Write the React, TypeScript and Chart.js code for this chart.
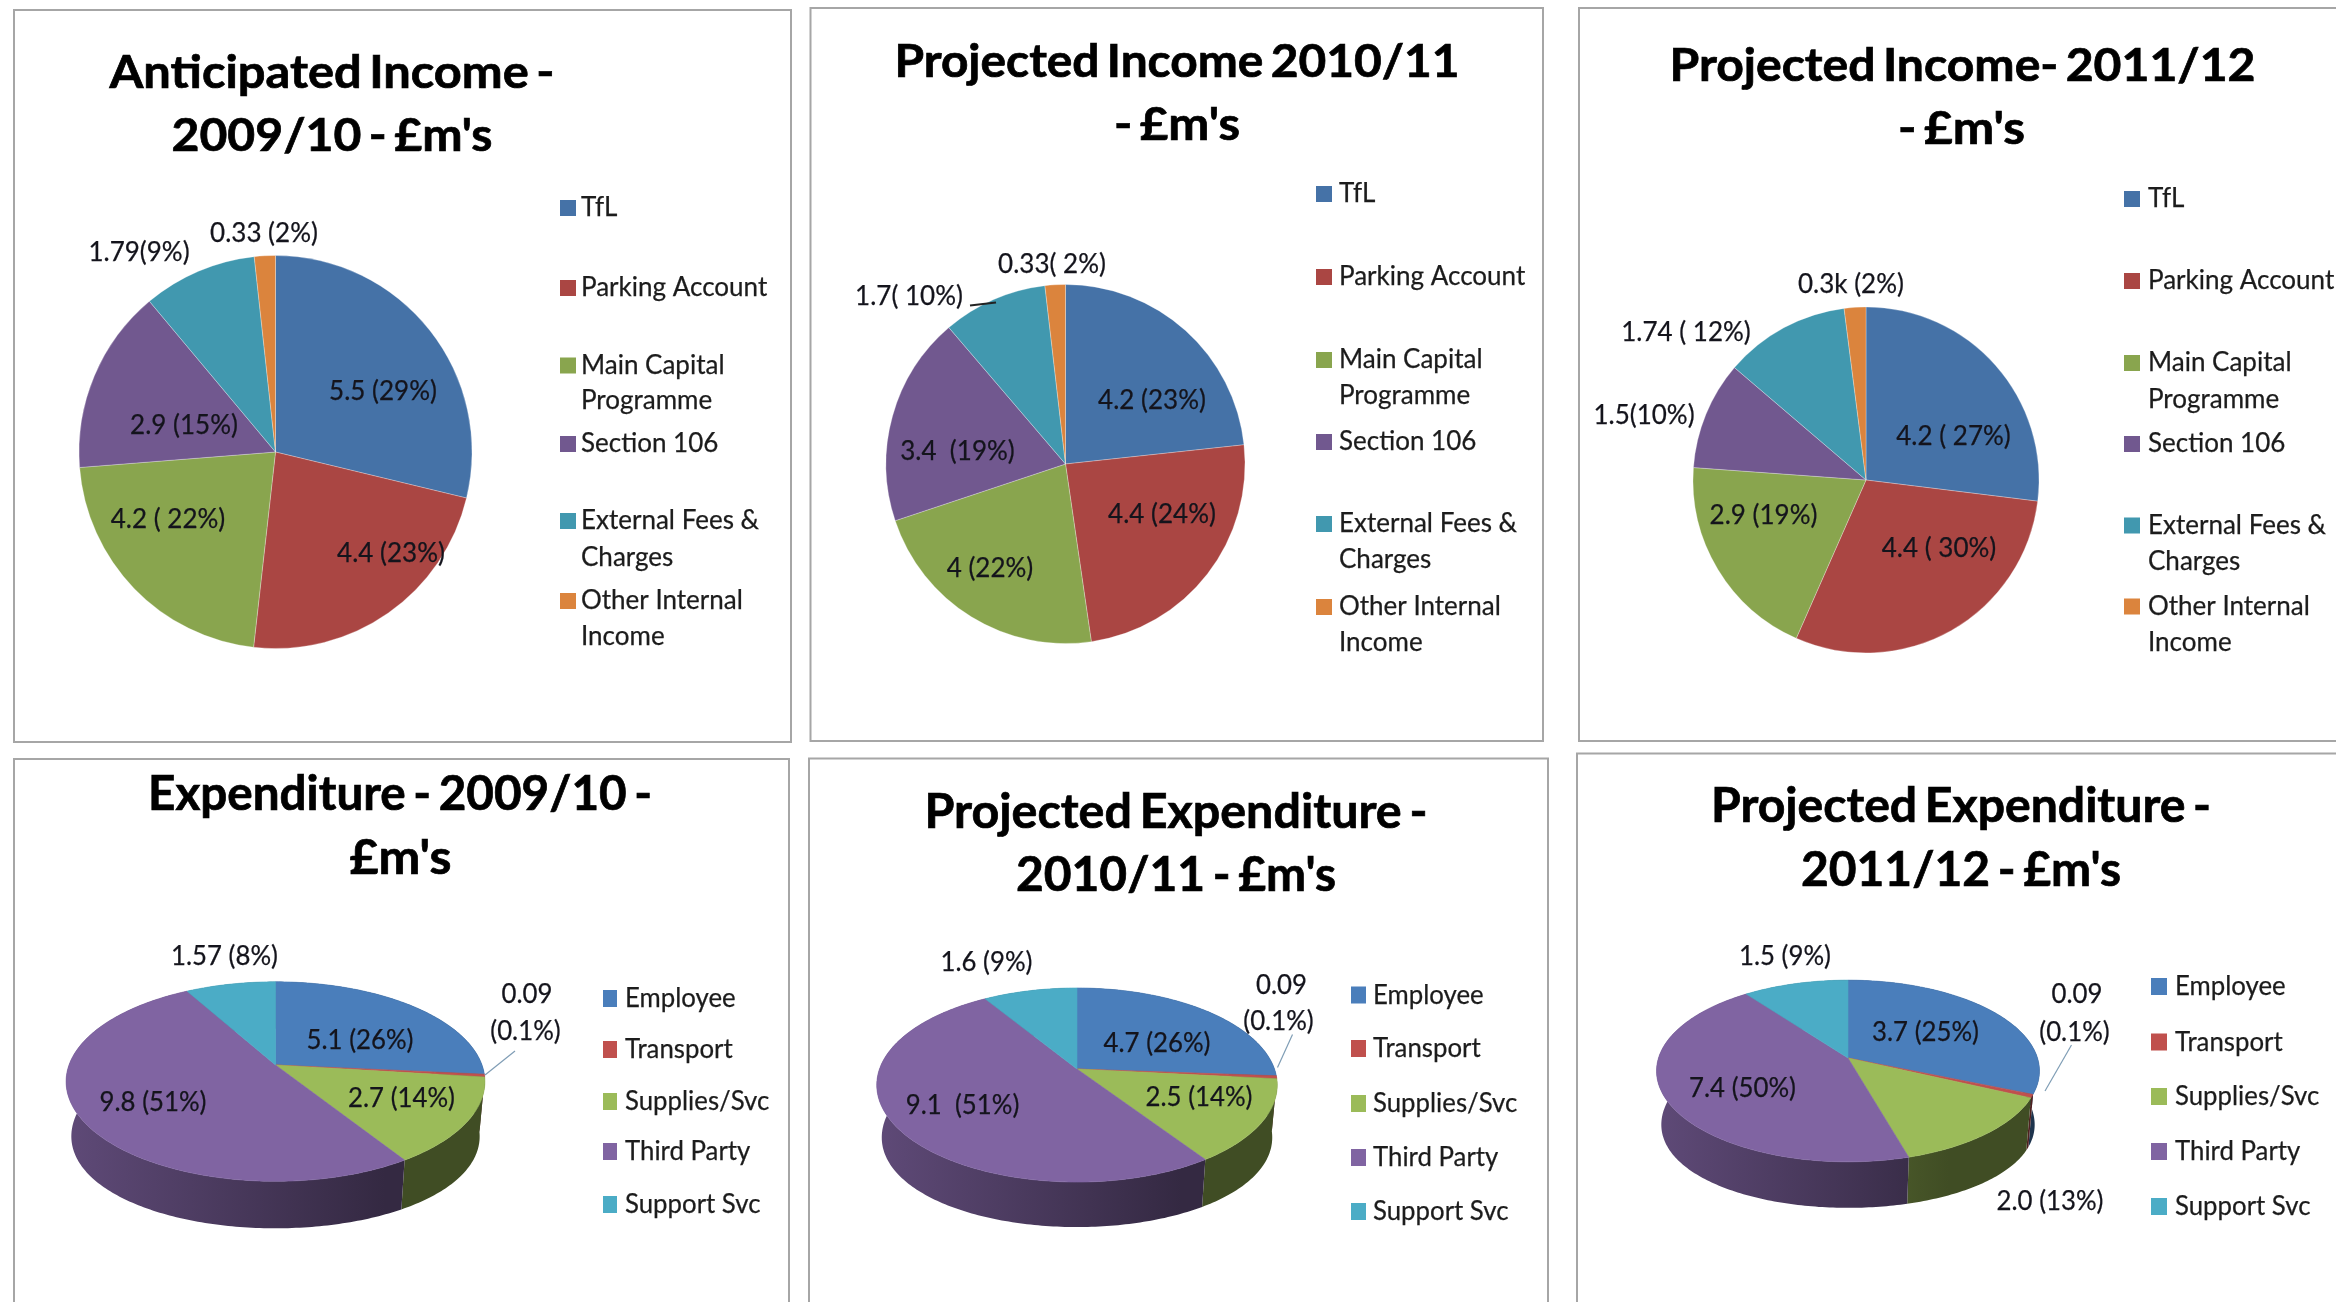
import React, { useEffect, useRef } from "react";
import { Chart, registerables } from "chart.js";

Chart.register(...registerables);

// ---- data ----
const incomeCategories = ["TfL", "Parking Account", "Main Capital Programme", "Section 106", "External Fees & Charges", "Other Internal Income"];
const expenditureCategories = ["Employee", "Transport", "Supplies/Svc", "Third Party", "Support Svc"];

const income0910 = [5.5, 4.4, 4.2, 2.9, 1.79, 0.33];
const income1011 = [4.2, 4.4, 4, 3.4, 1.7, 0.33];
// Slice sizes as drawn in the picture (its typed labels differ a little from the drawn slices).
const income1112 = [4.0, 4.4, 2.9, 1.5, 1.74, 0.3];
const spend0910 = [5.1, 0.09, 2.7, 9.8, 1.57];
const spend1011 = [4.7, 0.09, 2.5, 9.1, 1.6];
const spend1112 = [4.6, 0.09, 2.0, 6.5, 1.5];

const incomeColors = ["#4572a7", "#aa4643", "#89a54e", "#71588f", "#4198af", "#db843d"];
const spendColors = ["#4a7ebb", "#c0504d", "#9bbb59", "#8064a2", "#4bacc6"];

const FONT = "Lato, Carlito, Calibri, sans-serif";
type Txt = [string, number, number];
type Fit = [string, number, number, number];
type Panel = {
  box: number[]; values: number[]; labels: string[]; colors: string[];
  center: number[]; radius: number; tilt?: number[]; title: Fit[]; texts: Txt[];
  leader?: number[]; leaderColor?: string; leaderWidth?: number; legend: { y: number[]; text: string[] }[];
  swatch: number[]; legendX: number; legendFont: number; labelFont: number; sx: number; titleFont: number;
};

const incomeLegend = (y: number[]) => [
  { y: [y[0]], text: ["TfL"] },
  { y: [y[1]], text: ["Parking Account"] },
  { y: [y[2], y[3]], text: ["Main Capital", "Programme"] },
  { y: [y[4]], text: ["Section 106"] },
  { y: [y[5], y[6]], text: ["External Fees &", "Charges"] },
  { y: [y[7], y[8]], text: ["Other Internal", "Income"] },
];
const spendLegend = (y: number[]) => expenditureCategories.map((c, i) => ({ y: [y[i]], text: [c] }));

const panels: Panel[] = [
  {
    box: [14, 10, 791, 742], values: income0910, labels: incomeCategories, colors: incomeColors,
    center: [275.5, 452], radius: 197, titleFont: 45, sx: 1.0,
    title: [["Anticipated Income -", 332, 73, 445], ["2009/10 - £m's", 332, 136, 321]],
    texts: [["0.33 (2%)", 264, 233], ["1.79(9%)", 139, 252], ["5.5 (29%)", 383, 391], ["4.4 (23%)", 391, 553], ["4.2 ( 22%)", 168, 519], ["2.9 (15%)", 184, 425]],
    legend: incomeLegend([208, 288, 365.5, 401, 444, 521, 558, 601, 637]),
    swatch: [560, 16, 16], legendX: 581, legendFont: 26, labelFont: 26,
  },
  {
    box: [810.5, 8, 1543, 741], values: income1011, labels: incomeCategories, colors: incomeColors,
    center: [1065.5, 464], radius: 180, titleFont: 45, sx: 1.0,
    title: [["Projected Income 2010/11", 1177, 62, 565], ["- £m's", 1177, 125.5, 126]],
    texts: [["0.33( 2%)", 1052, 263.5], ["1.7( 10%)", 909, 296], ["4.2 (23%)", 1152, 400], ["4.4 (24%)", 1162, 514], ["4 (22%)", 990, 568], ["3.4  (19%)", 957.5, 451]],
    leader: [970, 305.4, 996, 302.5], leaderColor: "#222222", leaderWidth: 2,
    legend: incomeLegend([194, 277, 360, 396, 442, 524, 560, 607, 643]),
    swatch: [1316, 16, 16], legendX: 1339, legendFont: 26, labelFont: 26,
  },
  {
    box: [1579, 8, 2400, 741], values: income1112, labels: incomeCategories, colors: incomeColors,
    center: [1866, 480], radius: 173.5, titleFont: 45, sx: 1.0,
    title: [["Projected Income- 2011/12", 1962.5, 66, 586], ["- £m's", 1961.5, 129, 127]],
    texts: [["0.3k (2%)", 1851, 283.5], ["1.74 ( 12%)", 1686, 332], ["1.5(10%)", 1644, 415], ["4.2 ( 27%)", 1953.5, 436], ["4.4 ( 30%)", 1939, 548], ["2.9 (19%)", 1763.5, 515]],
    legend: incomeLegend([199, 281, 363, 399.5, 444, 525.5, 562, 606.5, 643]),
    swatch: [2124, 16, 16], legendX: 2148, legendFont: 26, labelFont: 26,
  },
  {
    box: [14, 759, 789, 1400], values: spend0910, labels: expenditureCategories, colors: spendColors,
    center: [275.5, 1065], radius: 207, tilt: [97, -0.166, 47], titleFont: 48, sx: 0.955,
    title: [["Expenditure - 2009/10 -", 400, 795, 504], ["£m's", 400.5, 859, 102]],
    texts: [["1.57 (8%)", 224.5, 955], ["0.09", 527, 993], ["(0.1%)", 525.5, 1030], ["5.1 (26%)", 360, 1039], ["2.7 (14%)", 401.5, 1097], ["9.8 (51%)", 153, 1101]],
    leader: [515, 1051, 485, 1075], leaderColor: "#7f9db5",
    legend: spendLegend([998.5, 1049.5, 1101.5, 1151.5, 1204.5]),
    swatch: [603, 14, 17], legendX: 625, legendFont: 27, labelFont: 27,
  },
  {
    box: [809, 758.5, 1548, 1400], values: spend1011, labels: expenditureCategories, colors: spendColors,
    center: [1077, 1069], radius: 198, tilt: [94.4, -0.165, 45], titleFont: 48, sx: 0.955,
    title: [["Projected Expenditure -", 1176, 813, 503], ["2010/11 - £m's", 1176, 876, 320]],
    texts: [["1.6 (9%)", 986.5, 961.5], ["0.09", 1281.5, 984], ["(0.1%)", 1278.5, 1020.5], ["4.7 (26%)", 1157, 1042], ["2.5 (14%)", 1199, 1096], ["9.1  (51%)", 962.5, 1104]],
    leader: [1292.5, 1034.5, 1277.5, 1067.5], leaderColor: "#7f9db5",
    legend: spendLegend([995, 1048.5, 1103.5, 1157.5, 1211.5]),
    swatch: [1351, 15, 17], legendX: 1373, legendFont: 27, labelFont: 27,
  },
  {
    box: [1577, 753.5, 2400, 1400], values: spend1112, labels: expenditureCategories, colors: spendColors,
    center: [1848, 1058], radius: 190, tilt: [89, -0.143, 46], titleFont: 48, sx: 0.955,
    title: [["Projected Expenditure -", 1961, 807, 500], ["2011/12 - £m's", 1961, 871, 320]],
    texts: [["1.5 (9%)", 1785, 955], ["0.09", 2077, 993], ["(0.1%)", 2074.5, 1031], ["3.7 (25%)", 1925.5, 1031.5], ["7.4 (50%)", 1742.5, 1087.5], ["2.0 (13%)", 2050, 1200]],
    leader: [2071.5, 1045, 2045, 1091], leaderColor: "#7f9db5",
    legend: spendLegend([986.5, 1042, 1096.5, 1151.5, 1206.5]),
    swatch: [2151, 16, 17], legendX: 2175, legendFont: 27, labelFont: 27,
  },
];

function shade(hex: string, k: number) {
  const n = parseInt(hex.slice(1), 16);
  const c = [(n >> 16) & 255, (n >> 8) & 255, n & 255].map((v) => Math.round(v * k));
  return `rgb(${c[0]},${c[1]},${c[2]})`;
}

// Draw one text at (x, y), squeezed horizontally and slightly emboldened.
function squeezed(ctx: CanvasRenderingContext2D, t: string, x: number, y: number, sx: number, bold: number) {
  ctx.save();
  ctx.translate(x, y);
  ctx.scale(sx, 1);
  ctx.fillText(t, 0, 0);
  ctx.lineWidth = bold;
  ctx.strokeStyle = ctx.fillStyle as string;
  ctx.strokeText(t, 0, 0);
  ctx.restore();
}

// Tilted pie: slices use the angles the library computed, projected with perspective.
const tiltedPie = {
  id: "tiltedPie",
  beforeDatasetDraw(chart: any, _args: any, opts: any) {
    if (!opts.tilt) return true;
    const [a, c, depth] = opts.tilt as number[];
    const ctx: CanvasRenderingContext2D = chart.ctx;
    const arcs = chart.getDatasetMeta(0).data;
    const colors = chart.data.datasets[0].backgroundColor as string[];
    const { x: cx, y: cy, outerRadius: R } = arcs[0];
    const top = (t: number) => {
      const u = Math.cos(t), v = Math.sin(t), d = 1 + c * v;
      return [cx + (R * u) / d, cy + (a * v) / d];
    };
    const low = (t: number) => {
      const p = top(t), u = Math.cos(t);
      return [cx + (p[0] - cx) * 0.975, p[1] + depth * (1 + 0.17 * u * u)];
    };
    const left = cx - R * 1.02, width = R * 2.04;
    arcs.forEach((arc: any, i: number) => {
      const n = Math.max(2, Math.ceil((arc.endAngle - arc.startAngle) * 60));
      const g = ctx.createLinearGradient(left, 0, left + width, 0);
      g.addColorStop(0, shade(colors[i], 0.74));
      g.addColorStop(0.76, shade(colors[i], 0.41));
      g.addColorStop(1, shade(colors[i], 0.41));
      ctx.beginPath();
      for (let k = 0; k <= n; k++) {
        const p = top(arc.startAngle + ((arc.endAngle - arc.startAngle) * k) / n);
        k ? ctx.lineTo(p[0], p[1]) : ctx.moveTo(p[0], p[1]);
      }
      for (let k = n; k >= 0; k--) {
        const p = low(arc.startAngle + ((arc.endAngle - arc.startAngle) * k) / n);
        ctx.lineTo(p[0], p[1]);
      }
      ctx.closePath();
      ctx.fillStyle = g;
      ctx.fill();
    });
    arcs.forEach((arc: any, i: number) => {
      const n = Math.max(2, Math.ceil((arc.endAngle - arc.startAngle) * 60));
      ctx.beginPath();
      ctx.moveTo(cx, cy);
      for (let k = 0; k <= n; k++) {
        const p = top(arc.startAngle + ((arc.endAngle - arc.startAngle) * k) / n);
        ctx.lineTo(p[0], p[1]);
      }
      ctx.closePath();
      ctx.fillStyle = colors[i];
      ctx.fill();
      ctx.strokeStyle = colors[i];
      ctx.lineWidth = 0.6;
      ctx.stroke();
    });
    return false;
  },
};

const decorations = {
  id: "decorations",
  afterDraw(chart: any, _args: any, p: Panel) {
    const ctx: any = chart.ctx;
    ctx.save();
    const [x0, y0, x1, y1] = p.box;
    ctx.strokeStyle = "#a6a6a6";
    ctx.lineWidth = 2;
    ctx.strokeRect(x0, y0, x1 - x0, y1 - y0);

    ctx.textAlign = "center";
    ctx.textBaseline = "middle";
    ctx.fillStyle = "#000000";
    ctx.font = `bold ${p.titleFont}px ${FONT}`;
    ctx.wordSpacing = "-4px";
    p.title.forEach(([t, x, y, w]) => squeezed(ctx, t, x, y, w / ctx.measureText(t).width, 0.7));
    ctx.wordSpacing = "0px";

    ctx.font = `${p.labelFont}px ${FONT}`;
    ctx.fillStyle = "#14141c";
    p.texts.forEach(([t, x, y]) => squeezed(ctx, t, x, y + 1, p.sx, 0.25));

    if (p.leader) {
      ctx.strokeStyle = p.leaderColor || "#7f9db5";
      ctx.lineWidth = p.leaderWidth || 1.2;
      ctx.beginPath();
      ctx.moveTo(p.leader[0], p.leader[1]);
      ctx.lineTo(p.leader[2], p.leader[3]);
      ctx.stroke();
    }

    const colors = chart.data.datasets[0].backgroundColor as string[];
    const [sxPos, sw, sh] = p.swatch;
    ctx.textAlign = "left";
    ctx.font = `${p.legendFont}px ${FONT}`;
    p.legend.forEach((item, i) => {
      ctx.fillStyle = colors[i];
      ctx.fillRect(sxPos, item.y[0] - sh / 2, sw, sh);
      ctx.fillStyle = "#1c1c1c";
      item.text.forEach((t, k) => squeezed(ctx, t, p.legendX, item.y[k], p.sx, 0.25));
    });
    ctx.restore();
  },
};

const W = 2336, H = 1302;

function PanelChart({ panel }: { panel: Panel }) {
  const ref = useRef<HTMLCanvasElement>(null);
  useEffect(() => {
    const [cx, cy] = panel.center, R = panel.radius;
    const chart = new Chart(ref.current as HTMLCanvasElement, {
      type: "pie",
      data: {
        labels: panel.labels,
        datasets: [{
          data: panel.values,
          backgroundColor: panel.colors,
          borderColor: "rgba(255,255,255,0.28)",
          borderWidth: 1,
        }],
      },
      options: {
        responsive: false,
        animation: false,
        layout: { padding: { left: cx - R, top: cy - R, right: W - cx - R, bottom: H - cy - R } },
        plugins: {
          legend: { display: false },
          tooltip: { enabled: false },
          tiltedPie: { tilt: panel.tilt },
          decorations: panel,
        } as any,
      },
      plugins: [tiltedPie, decorations],
    } as any);
    return () => chart.destroy();
  }, [panel]);
  return <canvas ref={ref} width={W} height={H} style={{ position: "absolute", left: 0, top: 0, width: W, height: H }} />;
}

export default function App() {
  return (
    <div style={{ position: "fixed", left: 0, top: 0, width: W, height: H, overflow: "hidden", background: "#ffffff" }}>
      {panels.map((p, i) => <PanelChart key={i} panel={p} />)}
    </div>
  );
}
